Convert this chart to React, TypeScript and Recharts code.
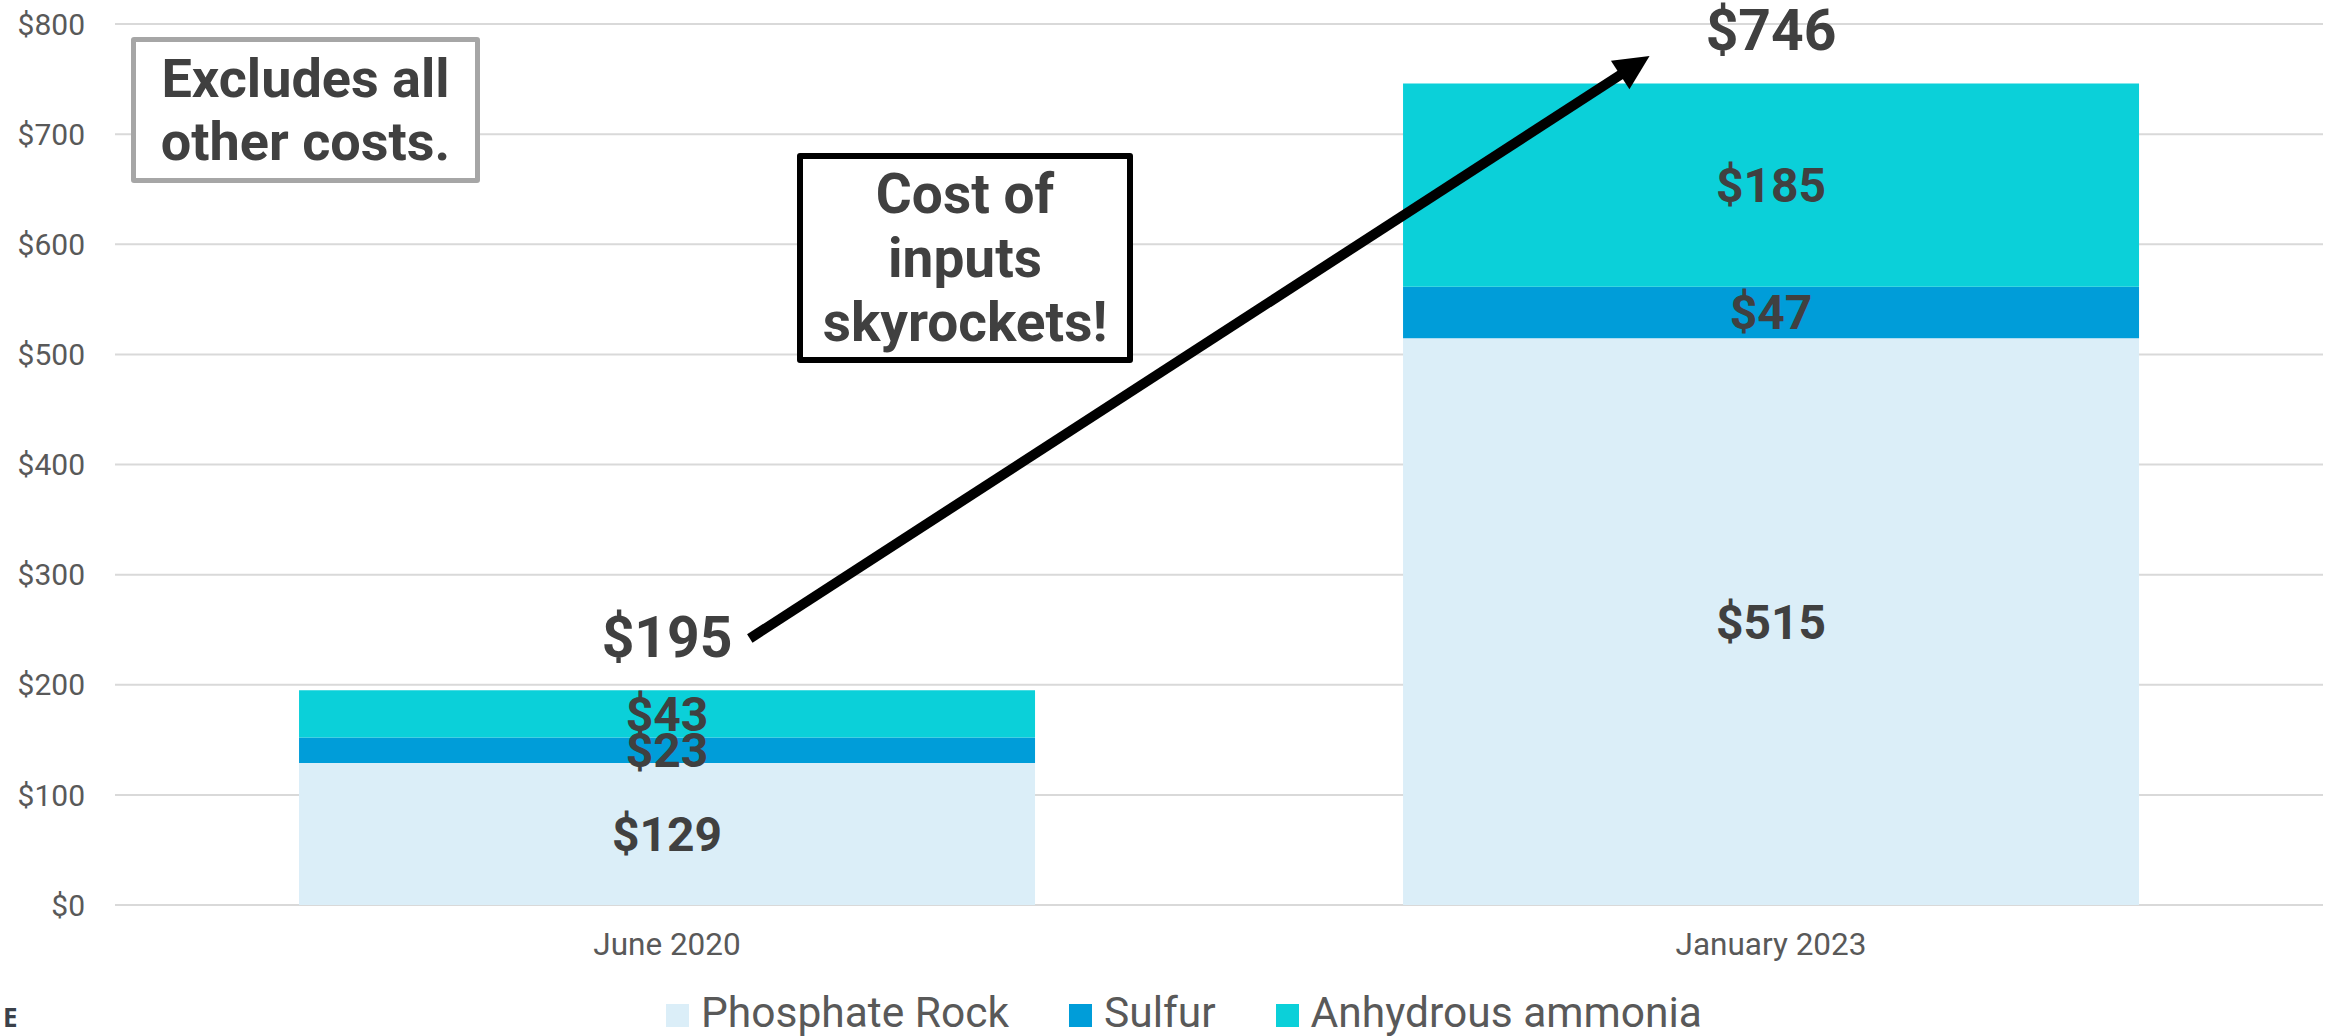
import React from 'react';
import {
  BarChart,
  Bar,
  XAxis,
  YAxis,
  CartesianGrid,
  Legend,
  LabelList,
  ReferenceLine,
} from 'recharts';

// Cost of inputs per period, $ (stacked by input)
const periods = ['June 2020', 'January 2023'];
const phosphateRock = [129, 514.7];
const sulfur = [23, 46.8];
const anhydrousAmmonia = [43, 184.5];

const yTicks = [0, 100, 200, 300, 400, 500, 600, 700, 800];

const seriesKeys = ['phosphate', 'sulfur', 'ammonia'];
const seriesNames = ['Phosphate Rock', 'Sulfur', 'Anhydrous ammonia'];
const seriesColors = ['#DBEEF8', '#009DD9', '#0BD0D9'];

// Trend arrow, from beside the 2020 total up to the 2023 total
// (x in category slots: 0 = first period, 1 = second; y in $)
const arrowFrom = { x: 0.075, y: 242 };
const arrowTo = { x: 0.89, y: 771 };

const rows = periods.map((period, i) => ({
  period,
  slot: i,
  phosphate: phosphateRock[i],
  sulfur: sulfur[i],
  ammonia: anhydrousAmmonia[i],
  total: phosphateRock[i] + sulfur[i] + anhydrousAmmonia[i],
}));

const FONT = 'Roboto, "Noto Sans", Arial, sans-serif';
const LABEL_COLOR = '#404040';
const AXIS_COLOR = '#595959';

const boxOf = (p: any) => {
  const vb = p.viewBox && typeof p.viewBox.x === 'number' ? p.viewBox : p;
  const x = Number(vb.x);
  const y = Number(vb.y);
  const width = Number(vb.width);
  const height = Number(vb.height);
  return {
    x: width < 0 ? x + width : x,
    y: height < 0 ? y + height : y,
    width: Math.abs(width),
    height: Math.abs(height),
  };
};

const money = (v: any) => `$${Math.round(Number(v))}`;

const SegmentLabel = (p: any) => {
  const b = boxOf(p);
  return (
    <text
      x={b.x + b.width / 2}
      y={b.y + b.height / 2}
      dy="0.355em"
      textAnchor="middle"
      fill={LABEL_COLOR}
      fontFamily={FONT}
      fontWeight={700}
      fontSize={48}
    >
      {money(p.value)}
    </text>
  );
};

const TotalLabel = (p: any) => {
  const b = boxOf(p);
  return (
    <text
      x={b.x + b.width / 2}
      y={b.y - 33}
      textAnchor="middle"
      fill={LABEL_COLOR}
      fontFamily={FONT}
      fontWeight={700}
      fontSize={57}
    >
      {money(p.value)}
    </text>
  );
};

const ArrowShape = (p: any) => {
  const x1 = Number(p.x1);
  const y1 = Number(p.y1);
  const x2 = Number(p.x2);
  const y2 = Number(p.y2);
  const dx = x2 - x1;
  const dy = y2 - y1;
  const len = Math.hypot(dx, dy) || 1;
  const ux = dx / len;
  const uy = dy / len;
  const nx = -uy;
  const ny = ux;
  const headLen = 35;
  const headHalf = 17;
  const bx = x2 - ux * headLen;
  const by = y2 - uy * headLen;
  const pts = [
    [x2, y2],
    [bx + nx * headHalf, by + ny * headHalf],
    [bx - nx * headHalf, by - ny * headHalf],
  ]
    .map((q) => q.join(','))
    .join(' ');
  return (
    <g>
      <line
        x1={x1}
        y1={y1}
        x2={bx + ux * 2}
        y2={by + uy * 2}
        stroke="#000000"
        strokeWidth={10}
      />
      <polygon points={pts} fill="#000000" />
    </g>
  );
};

const LegendContent = () => (
  <div
    style={{
      display: 'flex',
      height: 50,
      paddingTop: 8,
      boxSizing: 'border-box',
      fontFamily: FONT,
      fontSize: 42.5,
      color: AXIS_COLOR,
    }}
  >
    {seriesNames.map((name, i) => (
      <div
        key={name}
        style={{
          display: 'flex',
          alignItems: 'center',
          height: 40,
          marginRight: i < seriesNames.length - 1 ? 60 : 0,
        }}
      >
        <span
          style={{
            display: 'inline-block',
            width: 23,
            height: 23,
            background: seriesColors[i],
            marginRight: 12,
            marginTop: 4,
          }}
        />
        <span style={{ lineHeight: '40px', whiteSpace: 'nowrap' }}>{name}</span>
      </div>
    ))}
  </div>
);

const noteBox: React.CSSProperties = {
  position: 'absolute',
  boxSizing: 'border-box',
  background: '#ffffff',
  display: 'flex',
  flexDirection: 'column',
  justifyContent: 'center',
  alignItems: 'center',
  fontFamily: FONT,
  fontWeight: 700,
  color: LABEL_COLOR,
  whiteSpace: 'nowrap',
  borderRadius: 3,
};

export default function App() {
  return (
    <div
      style={{
        position: 'absolute',
        left: 0,
        top: 0,
        width: 2336,
        height: 1036,
        overflow: 'hidden',
        background: '#ffffff',
      }}
    >
      <BarChart
        width={2336}
        height={1036}
        data={rows}
        margin={{ top: 24, right: 13, bottom: 1, left: 0 }}
        barCategoryGap="16.67%"
        style={{ fontFamily: FONT }}
      >
        <CartesianGrid vertical={false} stroke="#D9D9D9" strokeWidth={2} />
        <XAxis
          dataKey="period"
          height={80}
          interval={0}
          tickLine={false}
          axisLine={false}
          tickSize={0}
          tickMargin={28}
          tick={{ fontSize: 31.5, fill: AXIS_COLOR, fontFamily: FONT }}
        />
        <XAxis
          xAxisId="slot"
          dataKey="slot"
          type="number"
          domain={[-0.5, 1.5]}
          allowDataOverflow
          hide
        />
        <YAxis
          width={115}
          domain={[0, 800]}
          ticks={yTicks}
          interval={0}
          tickFormatter={(v: number) => `$${v}`}
          tickLine={false}
          axisLine={false}
          tickSize={0}
          tickMargin={30}
          tick={{ fontSize: 30, fill: AXIS_COLOR, fontFamily: FONT }}
        />
        <Legend
          verticalAlign="bottom"
          align="left"
          content={LegendContent}
          wrapperStyle={{ left: 666, width: 1150 }}
        />
        {seriesKeys.map((key, i) => (
          <Bar
            key={key}
            dataKey={key}
            name={seriesNames[i]}
            stackId="cost"
            fill={seriesColors[i]}
            isAnimationActive={false}
          >
            <LabelList dataKey={key} content={SegmentLabel} />
            {i === seriesKeys.length - 1 ? (
              <LabelList dataKey="total" content={TotalLabel} />
            ) : null}
          </Bar>
        ))}
        <ReferenceLine
          xAxisId="slot"
          segment={[arrowFrom, arrowTo]}
          shape={ArrowShape}
          stroke="#000000"
        />
      </BarChart>

      <div
        style={{
          ...noteBox,
          left: 131,
          top: 37,
          width: 349,
          height: 146,
          border: '5px solid #A6A6A6',
          fontSize: 54,
          lineHeight: '63px',
        }}
      >
        <div>Excludes all</div>
        <div>other costs.</div>
      </div>

      <div
        style={{
          ...noteBox,
          left: 797,
          top: 153,
          width: 336,
          height: 210,
          border: '6px solid #000000',
          fontSize: 55,
          lineHeight: '64px',
        }}
      >
        <div>Cost of</div>
        <div>inputs</div>
        <div>skyrockets!</div>
      </div>

      <span
        style={{
          position: 'absolute',
          left: 3,
          top: 1004,
          fontFamily: '"Open Sans", sans-serif',
          fontWeight: 700,
          fontSize: 26,
          lineHeight: '26px',
          color: '#3B4149',
        }}
      >
        E
      </span>
    </div>
  );
}
